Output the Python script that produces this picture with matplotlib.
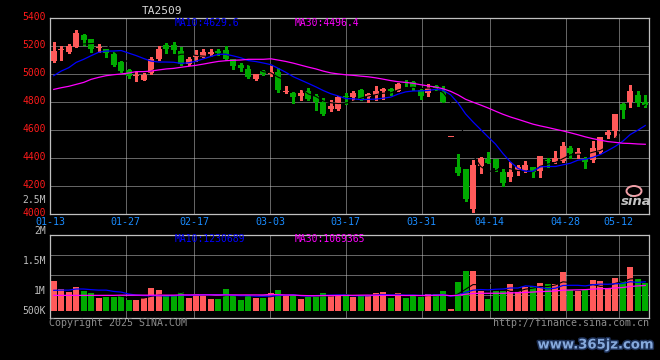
import numpy as np
import matplotlib
matplotlib.use("Agg")
import matplotlib.pyplot as plt
import matplotlib.patheffects as pe
import matplotlib.transforms as mtransforms
from matplotlib.patches import Ellipse

# ---------------- data ----------------
symbol = "TA2509"
date_idx = [0, 10, 19, 29, 39, 49, 58, 68, 75]
date_labels = ["01-13", "01-27", "02-17", "03-03", "03-17", "03-31", "04-14", "04-28", "05-12"]

opens = [5090, 5168, 5160, 5195, 5279, 5250, 5186, 5179, 5140, 5088,
         5031, 4989, 4957, 5010, 5105, 5207, 5207, 5167, 5071, 5124,
         5124, 5140, 5165, 5171, 5105, 5062, 5036, 4964, 5019, 5000,
         5017, 4870, 4862, 4840, 4881, 4840, 4802, 4750, 4752, 4840,
         4833, 4886, 4833, 4850, 4876, 4893, 4879, 4943, 4940, 4886,
         4862, 4917, 4869, 4547, 4338, 4321, 4036, 4345, 4393, 4393,
         4298, 4267, 4314, 4314, 4333, 4310, 4386, 4374, 4381, 4471,
         4426, 4393, 4386, 4445, 4564, 4595, 4786, 4802, 4850, 4798]
highs = [5231, 5202, 5214, 5314, 5285, 5252, 5214, 5181, 5155, 5095,
         5036, 5016, 5009, 5119, 5200, 5219, 5226, 5195, 5124, 5171,
         5180, 5180, 5181, 5200, 5110, 5076, 5064, 5002, 5026, 5060,
         5045, 4915, 4874, 4886, 4898, 4855, 4826, 4814, 4845, 4867,
         4879, 4893, 4864, 4914, 4898, 4902, 4933, 4957, 4950, 4893,
         4929, 4922, 4914, 4549, 4429, 4321, 4386, 4410, 4440, 4395,
         4319, 4374, 4350, 4379, 4336, 4417, 4398, 4452, 4514, 4486,
         4469, 4410, 4521, 4550, 4600, 4716, 4790, 4921, 4879, 4850]
lows = [5085, 5102, 5152, 5195, 5207, 5160, 5160, 5121, 5060, 5017,
        4970, 4952, 4955, 5003, 5100, 5152, 5152, 5064, 5064, 5090,
        5119, 5125, 5133, 5100, 5036, 5018, 4970, 4957, 4993, 4986,
        4874, 4862, 4795, 4814, 4814, 4745, 4707, 4738, 4745, 4786,
        4814, 4817, 4802, 4814, 4821, 4850, 4876, 4917, 4886, 4821,
        4843, 4886, 4800, 4547, 4279, 4095, 4017, 4290, 4362, 4307,
        4200, 4238, 4280, 4302, 4267, 4262, 4338, 4362, 4374, 4398,
        4398, 4326, 4374, 4438, 4545, 4548, 4688, 4767, 4771, 4762]
closes = [5164, 5172, 5200, 5293, 5243, 5179, 5190, 5150, 5064, 5021,
          4983, 4993, 4993, 5105, 5176, 5180, 5174, 5071, 5105, 5133,
          5155, 5160, 5150, 5105, 5057, 5045, 4979, 5000, 5000, 5017,
          4886, 4880, 4835, 4867, 4819, 4800, 4714, 4774, 4836, 4836,
          4867, 4821, 4857, 4879, 4890, 4876, 4929, 4933, 4900, 4840,
          4898, 4900, 4802, 4549, 4295, 4107, 4350, 4400, 4367, 4326,
          4219, 4302, 4338, 4350, 4302, 4414, 4376, 4398, 4486, 4438,
          4440, 4369, 4474, 4548, 4588, 4714, 4743, 4879, 4790, 4776]
volumes_m = [1.37, 0.99, 0.85, 1.08, 0.91, 0.81, 0.58, 0.63, 0.63, 0.65,
             0.50, 0.50, 0.60, 1.04, 0.94, 0.66, 0.69, 0.85, 0.58, 0.76,
             0.66, 0.55, 0.55, 0.99, 0.73, 0.49, 0.73, 0.58, 0.58, 0.81,
             0.94, 0.66, 0.75, 0.55, 0.61, 0.70, 0.81, 0.69, 0.69, 0.75,
             0.63, 0.70, 0.70, 0.81, 0.85, 0.58, 0.81, 0.59, 0.69, 0.61,
             0.76, 0.76, 0.90, 0.09, 1.31, 1.83, 1.83, 0.88, 0.55, 0.88,
             0.88, 1.22, 0.88, 1.06, 1.11, 1.26, 1.22, 1.22, 1.78, 0.96,
             0.88, 0.96, 1.40, 1.35, 1.04, 1.49, 1.37, 2.00, 1.46, 1.26]

# moving-average values before a full window of visible data exists
ma10_lead = [4988, 5021, 5045, 5083, 5105, 5131, 5155, 5164, 5164]
ma30_lead = [4890, 4902, 4912, 4926, 4940, 4962, 4976, 4988, 4995, 5000,
             5007, 5017, 5017, 5021, 5029, 5036, 5040, 5048, 5055, 5062,
             5071, 5081, 5090, 5095, 5098, 5100, 5105, 5105, 5105]
vma10_lead_m = [0.93, 0.94, 0.94, 0.99, 0.99, 0.96, 0.94, 0.94, 0.88]
vma30_lead_m = [0.70, 0.70, 0.70, 0.70, 0.70, 0.70, 0.70, 0.70, 0.70, 0.71,
                0.71, 0.71, 0.71, 0.71, 0.71, 0.71, 0.71, 0.72, 0.72, 0.72,
                0.72, 0.72, 0.72, 0.72, 0.72, 0.72, 0.72, 0.72, 0.72]

price_ticks = [4000, 4200, 4400, 4600, 4800, 5000, 5200, 5400]
ma_text_price = ("MA10:4629.6", "MA30:4496.4")
ma_text_vol = ("MA10:1230689", "MA30:1069365")

# ---------------- styling ----------------
W, H = 660, 360
RED = "#ff5a5a"
GREEN = "#00aa00"
BLUE = "#0000ff"
MAG = "#ff00ff"
GRID_C = "#c8c8c8"
SPINE_C = "#c0c0c0"
DATE_C = "#1a8cff"
LBL_GRAY = "#bdbdbd"
MONO = "DejaVu Sans Mono"
plt.rcParams["font.family"] = MONO
DOT = (0, (1, 1))


def fpos(xp, yp):
    return xp / W, 1 - yp / H


def moving_avg(values, window, lead):
    values = np.asarray(values, float)
    out = np.full(len(values), np.nan)
    out[:len(lead)] = lead
    for i in range(window - 1, len(values)):
        out[i] = values[i - window + 1:i + 1].mean()
    return out


o = np.array(opens, float)
h = np.array(highs, float)
l = np.array(lows, float)
c = np.array(closes, float)
vol = np.array(volumes_m, float) * 1e6
n = len(c)
x = np.arange(n)
up = c >= o
cols = np.where(up, RED, GREEN)

fig = plt.figure(figsize=(W / 100, H / 100), dpi=100, facecolor="black")

# ---------------- price panel ----------------
ax = fig.add_axes([50 / W, 1 - 214 / H, 599 / W, 196 / H])
axg = ax.twiny()
ax.set_zorder(2)
axg.set_zorder(1)
ax.patch.set_visible(False)
axg.patch.set_facecolor("black")

ax.set_xlim(-0.5, n - 0.5)
ax.set_ylim(4000, 5400)
ax.set_yticks(price_ticks)
ax.set_yticklabels([str(t) for t in price_ticks])
ax.tick_params(axis="y", length=0, pad=3, labelcolor="#ff1a1a", labelsize=7)
ax.tick_params(axis="x", length=0, labelbottom=False)
ax.yaxis.grid(True, color=GRID_C, ls=DOT, lw=0.72)
ax.set_axisbelow(True)
for s in ax.spines.values():
    s.set_color(SPINE_C)
    s.set_linewidth(0.9)
lift = mtransforms.ScaledTranslation(0, 2.2 / 100, fig.dpi_scale_trans)
for lab in ax.get_yticklabels():
    lab.set_transform(lab.get_transform() + lift)

axg.set_xlim(0, n - 1)
axg.set_xticks(date_idx)
axg.set_xticklabels(date_labels)
axg.xaxis.set_ticks_position("bottom")
axg.xaxis.set_label_position("bottom")
axg.tick_params(axis="x", length=0, pad=2, labelcolor=DATE_C, labelsize=7.2)
axg.xaxis.grid(True, color=GRID_C, ls=DOT, lw=0.72)
for s in axg.spines.values():
    s.set_visible(False)

# candles
ax.vlines(x, l, h, colors=cols, lw=0.75, antialiased=False, zorder=2)
body_bottom = np.minimum(o, c)
body_h = np.maximum(np.abs(c - o), 7.0)
ax.bar(x, body_h, bottom=body_bottom, width=0.8, color=cols, lw=0,
       antialiased=False, zorder=3)

ma5 = moving_avg(c, 5, [])
ma10 = moving_avg(c, 10, ma10_lead)
ma30 = moving_avg(c, 30, ma30_lead)
ax.plot(x, ma5, color="black", lw=0.8, zorder=4)
ax.plot(x, ma10, color=BLUE, lw=0.9, zorder=5)
ax.plot(x, ma30, color=MAG, lw=0.9, zorder=5)

# ---------------- volume panel ----------------
axv = fig.add_axes([50 / W, 1 - 318.3 / H, 599 / W, 83.6 / H])
axvg = axv.twiny()
axv.set_zorder(2)
axvg.set_zorder(1)
axv.patch.set_visible(False)
axvg.patch.set_facecolor("black")

axv.set_xlim(-0.5, n - 0.5)
axv.set_ylim(-0.347e6, 3.47e6)
axv.set_yticks([0.703e6, 1.616e6, 2.53e6])
axv.tick_params(axis="y", length=0, labelleft=False)
axv.tick_params(axis="x", length=0, labelbottom=False)
axv.yaxis.grid(True, color=GRID_C, ls=DOT, lw=0.72)
axv.set_axisbelow(True)
for s in axv.spines.values():
    s.set_color(SPINE_C)
    s.set_linewidth(0.9)
axv.spines["top"].set_linestyle(DOT)

axvg.set_xlim(0, n - 1)
axvg.set_xticks(date_idx)
axvg.set_xticklabels([])
axvg.tick_params(axis="x", length=0)
axvg.xaxis.grid(True, color=GRID_C, ls=DOT, lw=0.72)
for s in axvg.spines.values():
    s.set_visible(False)

axv.bar(x, vol, width=0.8, color=cols, lw=0, antialiased=False, zorder=2)
vma5 = moving_avg(vol, 5, [])
vma10 = moving_avg(vol, 10, np.array(vma10_lead_m) * 1e6)
vma30 = moving_avg(vol, 30, np.array(vma30_lead_m) * 1e6)
axv.plot(x, vma5, color="black", lw=0.8, zorder=4)
axv.plot(x, vma10, color=BLUE, lw=0.9, zorder=5)
axv.plot(x, vma30, color=MAG, lw=0.9, zorder=5)

# ---------------- texts ----------------
fig.text(*fpos(162, 10.5), symbol, color="#d8d8d8", fontsize=8, ha="center", va="center")
fig.text(*fpos(175, 23.5), ma_text_price[0], color=BLUE, fontsize=7, ha="left", va="center", zorder=10)
fig.text(*fpos(295, 23.5), ma_text_price[1], color=MAG, fontsize=7, ha="left", va="center", zorder=10)
fig.text(*fpos(175, 238.5), ma_text_vol[0], color=BLUE, fontsize=7, ha="left", va="center", zorder=10)
fig.text(*fpos(295, 238.5), ma_text_vol[1], color=MAG, fontsize=7, ha="left", va="center", zorder=10)

for lab, yp in [("2.5M", 200), ("2M", 231), ("1.5M", 261), ("1M", 291), ("500K", 311)]:
    fig.text(*fpos(46, yp), lab, color=LBL_GRAY, fontsize=7, ha="right", va="center")

fig.text(*fpos(49, 323.5), "Copyright 2025 SINA.COM", color="#8c8c8c", fontsize=7.2,
         ha="left", va="center")
fig.text(*fpos(649, 323.5), "http://finance.sina.com.cn", color="#8c8c8c", fontsize=7.2,
         ha="right", va="center")

# sina logo
fig.patches.append(Ellipse(fpos(634, 191), 15 / W, 10 / H, transform=fig.transFigure,
                           fill=False, edgecolor="#f2a0a8", lw=1.4, zorder=20))
fig.text(*fpos(636, 201.5), "sina", color="#c4c4c4", fontsize=9.5, fontweight="bold",
         fontstyle="italic", family="DejaVu Sans", ha="center", va="center", zorder=20)

# watermark
fig.text(*fpos(596, 345), "www.365jz.com", color="#86a9dc", fontsize=9.5, fontweight="bold",
         family="DejaVu Sans", ha="center", va="center",
         path_effects=[pe.withStroke(linewidth=2.2, foreground="#1c2f55")])

fig.savefig("out.png", dpi=100, facecolor="black")
